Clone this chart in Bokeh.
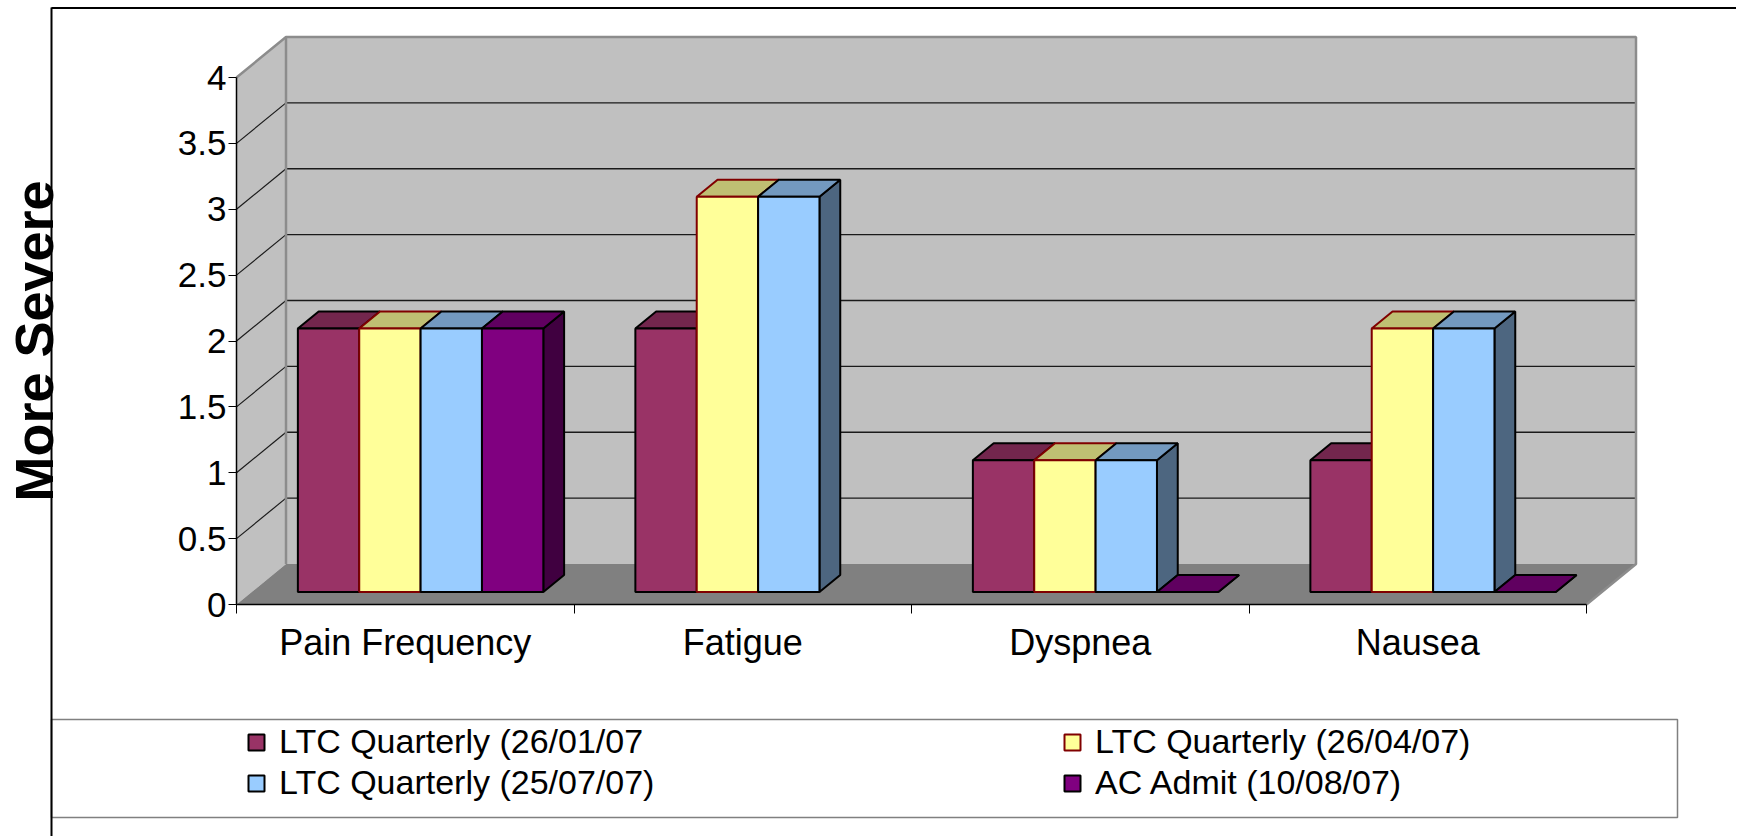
from bokeh.plotting import figure
from bokeh.models import (ColumnDataSource, Range1d, LinearAxis, FixedTicker,
                          Legend, LegendItem)
from bokeh.embed import file_html
from bokeh.resources import INLINE

# ---------------- data ----------------
categories = ["Pain Frequency", "Fatigue", "Dyspnea", "Nausea"]
series_names = ["LTC Quarterly (26/01/07", "LTC Quarterly (26/04/07)",
                "LTC Quarterly (25/07/07)", "AC Admit (10/08/07)"]
ltc_jan = [2, 2, 1, 1]
ltc_apr = [2, 3, 1, 2]
ltc_jul = [2, 3, 1, 2]
ac_admit = [2, None, 0, 0]
y_ticks = [0, 0.5, 1, 1.5, 2, 2.5, 3, 3.5, 4]
y_tick_labels = ["0", "0.5", "1", "1.5", "2", "2.5", "3", "3.5", "4"]
y_title = "More Severe"

series = [ltc_jan, ltc_apr, ltc_jul, ac_admit]

# ---------------- styles ----------------
front_colors = ["#993366", "#FFFF99", "#99CCFF", "#800080"]
top_colors = ["#73264D", "#BFBF73", "#7399BF", "#600060"]
side_colors = ["#4D1A33", "#80804D", "#4D6680", "#400040"]
edge_colors = ["#000000", "#800000", "#000000", "#000000"]
FONT = "Liberation Sans"

# ---------------- layout (page pixels) ----------------
W, H = 1736, 836
M = 0
X0_PX, XU_PX = 236.0, 337.5     # x=0 position and px per category
Y0_PX, YU_PX = 604.0, 131.75    # y=0 position and px per unit


def px_x(px):
    return (px - X0_PX) / XU_PX


def px_y(py):
    return (Y0_PX - py) / YU_PX


DX = 49.5 / XU_PX   # depth offset of back wall (data units)
DY = 40.5 / YU_PX
F0, F1 = 0.31, 0.73  # bar front / back depth fraction
GAP = 1.5
ncat = len(categories)
nser = len(series)
BW = 1.0 / (nser + GAP)
ymax = y_ticks[-1]

p = figure(width=W, height=H, output_backend="svg", toolbar_location=None,
           x_range=Range1d(px_x(M), px_x(M + W)),
           y_range=Range1d(px_y(M + H), px_y(M)),
           x_axis_location=None, y_axis_location=None,
           min_border=0, outline_line_color=None,
           background_fill_color="white", border_fill_color="white")
p.grid.visible = False

# ---------------- walls & floor ----------------
p.patch([0, 0, DX, DX], [0, ymax, ymax + DY, DY], fill_color="#C0C0C0", line_color=None)
p.quad(left=[DX], right=[ncat + DX], bottom=[DY], top=[ymax + DY],
       fill_color="#C0C0C0", line_color=None)
p.patch([0, ncat, ncat + DX, DX], [0, 0, DY, DY], fill_color="#808080", line_color=None)

inner = y_ticks[1:-1]
p.segment(x0=[DX] * len(inner), y0=[v + DY for v in inner],
          x1=[ncat + DX] * len(inner), y1=[v + DY for v in inner],
          line_color="#1A1A1A", line_width=1.3)
p.segment(x0=[0] * len(inner), y0=inner, x1=[DX] * len(inner), y1=[v + DY for v in inner],
          line_color="#1A1A1A", line_width=1.2)
# wall borders
p.multi_line(xs=[[0, DX, ncat + DX, ncat + DX, ncat], [DX, DX]],
             ys=[[ymax, ymax + DY, ymax + DY, DY, 0], [DY, ymax + DY]],
             line_color="#8C8C8C", line_width=2.5)

# ---------------- bars (pseudo 3D) ----------------
pxs, pys, pfill, pline = [], [], [], []
fronts = [dict(left=[], right=[], bottom=[], top=[]) for _ in range(nser)]
a0x, a0y, a1x, a1y = F0 * DX, F0 * DY, F1 * DX, F1 * DY
for ci in range(ncat):
    for si in range(nser):
        v = series[si][ci]
        if v is None:
            continue
        xl = ci + 0.5 - nser * BW / 2 + si * BW
        xr = xl + BW
        # side face
        pxs.append([xr + a0x, xr + a1x, xr + a1x, xr + a0x])
        pys.append([a0y, a1y, v + a1y, v + a0y])
        pfill.append(side_colors[si])
        pline.append(edge_colors[si])
        # top face
        pxs.append([xl + a0x, xr + a0x, xr + a1x, xl + a1x])
        pys.append([v + a0y, v + a0y, v + a1y, v + a1y])
        pfill.append(top_colors[si])
        pline.append(edge_colors[si])
        f = fronts[si]
        f["left"].append(xl + a0x)
        f["right"].append(xr + a0x)
        f["bottom"].append(a0y)
        f["top"].append(v + a0y)

p.patches(xs="xs", ys="ys", fill_color="fill", line_color="line", line_width=2,
          source=ColumnDataSource(dict(xs=pxs, ys=pys, fill=pfill, line=pline)))

front_renderers = []
for si in range(nser):
    r = p.quad(left="left", right="right", bottom="bottom", top="top",
               source=ColumnDataSource(fronts[si]),
               fill_color=front_colors[si], line_color=edge_colors[si], line_width=2)
    front_renderers.append(r)

# ---------------- axes ----------------
yaxis = LinearAxis(fixed_location=0, bounds=(0, ymax),
                   ticker=FixedTicker(ticks=y_ticks, minor_ticks=[]),
                   major_label_overrides=dict(zip(y_ticks, y_tick_labels)))
yaxis.axis_line_color = "black"
yaxis.axis_line_width = 1.5
yaxis.major_tick_line_color = "black"
yaxis.major_tick_out = 8
yaxis.major_tick_in = 0
yaxis.minor_tick_line_color = None
yaxis.major_label_text_font = FONT
yaxis.major_label_text_font_size = "35px"
yaxis.major_label_text_color = "black"
yaxis.major_label_standoff = 2
yaxis.axis_label = y_title
yaxis.axis_label_text_font = FONT
yaxis.axis_label_text_font_style = "bold"
yaxis.axis_label_text_font_size = "54px"
yaxis.axis_label_text_color = "black"
yaxis.axis_label_standoff = 111
p.add_layout(yaxis, "left")

xaxis = LinearAxis(fixed_location=0, bounds=(0, ncat),
                   ticker=FixedTicker(ticks=[i + 0.5 for i in range(ncat)],
                                      minor_ticks=list(range(ncat + 1))),
                   major_label_overrides={i + 0.5: c for i, c in enumerate(categories)})
xaxis.axis_line_color = "black"
xaxis.axis_line_width = 1.5
xaxis.major_tick_out = 0
xaxis.major_tick_in = 0
xaxis.minor_tick_out = 9
xaxis.minor_tick_in = 0
xaxis.minor_tick_line_color = "black"
xaxis.major_label_text_font = FONT
xaxis.major_label_text_font_size = "36px"
xaxis.major_label_text_color = "black"
xaxis.major_label_standoff = 8
p.add_layout(xaxis, "below")

# ---------------- chart border & legend box ----------------
p.quad(left=[px_x(51)], right=[px_x(1677)], bottom=[px_y(817)], top=[px_y(719)],
       fill_color=None, line_color="#808080", line_width=1.5)
p.line([px_x(51), px_x(51)], [px_y(7), px_y(M + H)], line_color="black", line_width=2)
p.line([px_x(51), px_x(M + W)], [px_y(7.5), px_y(7.5)], line_color="black", line_width=2)

legend = Legend(items=[LegendItem(label=n, renderers=[r])
                       for n, r in zip(series_names, front_renderers)],
                orientation="horizontal", ncols=2,
                location=(246 - M, H - 802), padding=0, margin=0, spacing=2,
                glyph_width=20, glyph_height=20, label_standoff=13,
                label_width=781, label_height=38,
                border_line_alpha=0, background_fill_alpha=0,
                label_text_font=FONT, label_text_font_size="34px",
                label_text_color="black")
p.add_layout(legend)

open("out.html", "w").write(file_html(p, INLINE))
